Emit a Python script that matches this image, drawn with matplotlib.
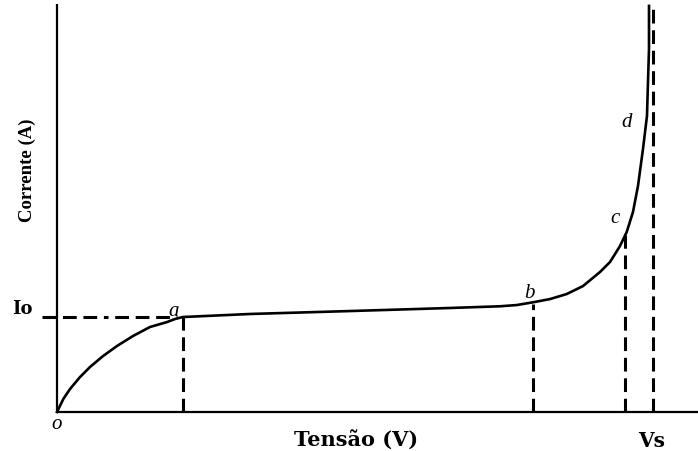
#!/usr/bin/env python3
'''Curva caracteristica corrente x tensao (regiao de saturacao e ruptura).'''
import matplotlib
matplotlib.use('Agg')
import matplotlib.pyplot as plt

# tensao (V, escala arbitraria com Vs = 10) e corrente (A, em unidades de Io)
tensao = [0.0, 0.106, 0.218, 0.386, 0.554, 0.772, 1.007, 1.275, 1.56, 1.846,
          1.98, 2.11, 3.24, 4.92, 6.59, 7.433, 7.713, 7.987, 8.272, 8.552,
          8.826, 9.111, 9.279, 9.446, 9.559, 9.664, 9.748, 9.832, 9.899,
          9.916, 9.933, 9.933]
corrente = [0.0, 0.137, 0.242, 0.368, 0.474, 0.589, 0.695, 0.80, 0.895, 0.947,
            0.979, 1.0, 1.032, 1.063, 1.095, 1.113, 1.126, 1.155, 1.189, 1.242,
            1.326, 1.474, 1.579, 1.747, 1.895, 2.105, 2.379, 2.768, 3.116,
            3.474, 3.821, 4.274]

# pontos marcados na curva
pontos = ['a', 'b', 'c']
v_pontos = [2.11, 7.99, 9.53]
i_pontos = [1.00, 1.14, 1.86]
Vs = 10.0
Io = 1.0

serif = 'DejaVu Serif'
italic = 'Liberation Serif'

fig = plt.figure(figsize=(6.98, 4.52), dpi=100)
ax = fig.add_axes([0, 0, 1, 1])
ax.set_xlim(-0.956, 10.755)
ax.set_ylim(-0.41, 4.347)
ax.axis('off')

# eixos
ax.plot([0, 10.755], [0, 0], color='black', lw=1.6, solid_capstyle='butt')
ax.plot([0, 0], [0, 4.29], color='black', lw=1.6, solid_capstyle='butt')

# curva
ax.plot(tensao, corrente, color='black', lw=1.9, solid_joinstyle='round')

# linhas de referencia
dash = dict(color='black', lw=2.2, dashes=(4.5, 2.2))
ax.plot([-0.25, v_pontos[0] - 0.1], [Io, Io], color='black', lw=2.2,
        dashes=(4.5, 2.2, 4.5, 2.2, 4.5, 2.2, 1.5, 2.2))
for v, i in zip(v_pontos, i_pontos):
    ax.plot([v, v], [0, i], **dash)
ax.plot([Vs, Vs], [0, 4.29], **dash)

# letras dos pontos
letra = dict(fontfamily=italic, style='italic', fontsize=15,
             ha='center', va='center')
ax.text(1.95, 1.07, 'a', **letra)
ax.text(7.93, 1.26, 'b', **letra)
ax.text(9.36, 2.05, 'c', **letra)
ax.text(9.56, 3.06, 'd', **letra)
ax.text(0.0, -0.12, 'o', **letra)

# rotulos
ax.text(-0.58, 1.09, 'Io', fontfamily=serif, fontweight='bold', fontsize=13,
        ha='center', va='center')
ax.text(9.97, -0.29, 'Vs', fontfamily=serif, fontweight='bold', fontsize=14.5,
        ha='center', va='center')
ax.text(5.02, -0.29, 'Tensão (V)', fontfamily=serif, fontweight='bold',
        fontsize=15, ha='center', va='center')
ax.text(-0.49, 2.56, 'Corrente (A)', fontfamily='Liberation Serif',
        fontweight='bold', fontsize=13.5, ha='center', va='center',
        rotation=90)

fig.savefig('out.png', dpi=100)
